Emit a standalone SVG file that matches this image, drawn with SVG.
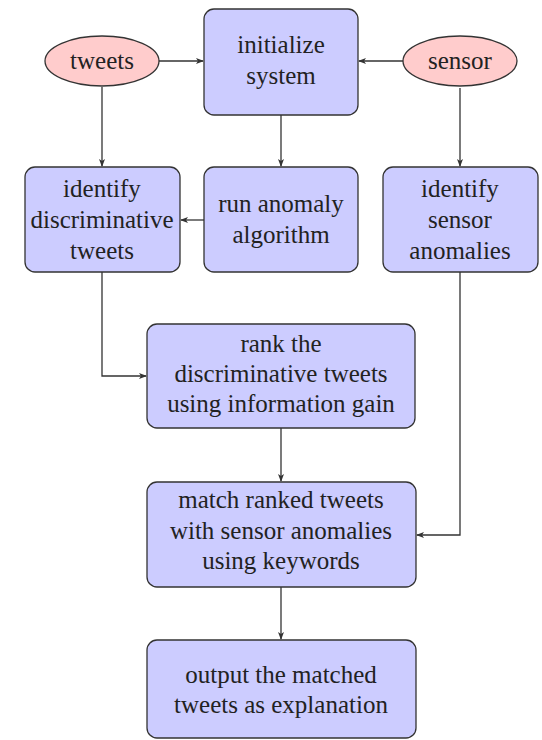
<svg xmlns="http://www.w3.org/2000/svg" width="542" height="740" viewBox="0 0 542 740">
<style>
.box{fill:#ccccff;stroke:#333;stroke-width:1.3}
.ell{fill:#ffcccc;stroke:#333;stroke-width:1.3}
text{font-family:'Liberation Serif','Tinos','Nimbus Roman','DejaVu Serif',serif;font-size:25px;fill:#222;text-anchor:middle}
.c{fill:none;stroke:#333;stroke-width:1.3}
</style>
<defs>
<marker id="ah" markerWidth="8" markerHeight="6" refX="7" refY="3" orient="auto" markerUnits="userSpaceOnUse">
<path d="M0,0 L8,3 L0,6 L2,3 Z" fill="#333"/>
</marker>
</defs>
<rect width="542" height="740" fill="#fff"/>
<g id="connectors">
<line class="c" x1="159" y1="61" x2="203" y2="61" marker-end="url(#ah)"/>
<line class="c" x1="403" y1="61" x2="359" y2="61" marker-end="url(#ah)"/>
<line class="c" x1="102" y1="87" x2="102" y2="166" marker-end="url(#ah)"/>
<line class="c" x1="281" y1="115" x2="281" y2="166" marker-end="url(#ah)"/>
<line class="c" x1="460" y1="88" x2="460" y2="166" marker-end="url(#ah)"/>
<line class="c" x1="204" y1="220" x2="181" y2="220" marker-end="url(#ah)"/>
<polyline class="c" points="102,272 102,376 146,376" marker-end="url(#ah)"/>
<line class="c" x1="281" y1="428" x2="281" y2="481" marker-end="url(#ah)"/>
<polyline class="c" points="460,272 460,535 417,535" marker-end="url(#ah)"/>
<line class="c" x1="281" y1="587" x2="281" y2="639" marker-end="url(#ah)"/>
</g>
<g id="tweets">
<ellipse class="ell" cx="102" cy="61" rx="57" ry="25"/>
<text x="102" y="69" font-family="Liberation Serif, serif">tweets</text>
</g>
<g id="sensor">
<ellipse class="ell" cx="460" cy="61" rx="57" ry="25"/>
<text x="460" y="69">sensor</text>
</g>
<g id="init">
<rect class="box" x="204" y="9" width="154" height="106" rx="10"/>
<text x="281" y="53">initialize</text>
<text x="281" y="84">system</text>
</g>
<g id="identify-tweets">
<rect class="box" x="25" y="167" width="155" height="105" rx="10"/>
<text x="102" y="197">identify</text>
<text x="102" y="228">discriminative</text>
<text x="102" y="259">tweets</text>
</g>
<g id="run-anomaly">
<rect class="box" x="204" y="167" width="154" height="105" rx="10"/>
<text x="281" y="212">run anomaly</text>
<text x="281" y="243">algorithm</text>
</g>
<g id="identify-sensor">
<rect class="box" x="383" y="167" width="155" height="105" rx="10"/>
<text x="460" y="197">identify</text>
<text x="460" y="228">sensor</text>
<text x="460" y="259">anomalies</text>
</g>
<g id="rank">
<rect class="box" x="147" y="324" width="268" height="104" rx="10"/>
<text x="281" y="352">rank the</text>
<text x="281" y="382">discriminative tweets</text>
<text x="281" y="412">using information gain</text>
</g>
<g id="match">
<rect class="box" x="147" y="482" width="269" height="105" rx="10"/>
<text x="281" y="508">match ranked tweets</text>
<text x="281" y="539">with sensor anomalies</text>
<text x="281" y="569">using keywords</text>
</g>
<g id="output">
<rect class="box" x="147" y="640" width="269" height="98" rx="10"/>
<text x="281" y="683">output the matched</text>
<text x="281" y="713">tweets as explanation</text>
</g>
</svg>
